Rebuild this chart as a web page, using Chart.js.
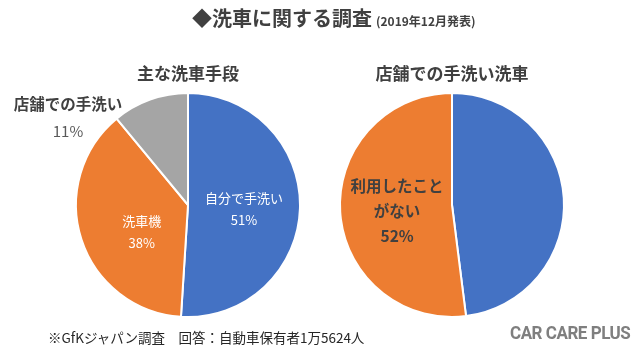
<!DOCTYPE html>
<html><head><meta charset="utf-8">
<script src="https://cdn.jsdelivr.net/npm/chart.js@4.4.0/dist/chart.umd.min.js"></script>
<style>
html,body{margin:0;padding:0;background:#fff;}
#wrap{position:relative;width:640px;height:352px;overflow:hidden;font-family:"Noto Sans CJK JP","Noto Sans",sans-serif;}
.box{position:absolute;top:0;width:320px;height:352px;}
.t{position:absolute;white-space:nowrap;color:#404040;}
</style></head>
<body><div id="wrap">
<div class="box" style="left:0"><canvas id="c1"></canvas></div>
<div class="box" style="left:320px"><canvas id="c2"></canvas></div>
<div class="t" id="mainTitle" style="left:192px;top:4px;font-weight:bold;font-size:20px;line-height:28px;"></div>
<div class="t" id="sub1" style="left:88px;width:200px;top:59px;text-align:center;font-weight:bold;font-size:17px;line-height:28px;"></div>
<div class="t" id="sub2" style="left:352px;width:200px;top:59px;text-align:center;font-weight:bold;font-size:17px;line-height:28px;"></div>
<div class="t" id="note" style="left:48px;top:327px;font-size:13.5px;line-height:20px;color:#262626;"></div>
<div class="t" id="logo" style="left:510px;top:321px;font-family:'Roboto','Liberation Sans',sans-serif;font-weight:bold;font-size:18px;line-height:24px;color:#7f7f7f;letter-spacing:-0.5px;transform-origin:0 50%;"></div>
</div>
<script>
const titleMain = "◆洗車に関する調査";
const titleDate = "(2019年12月発表)";
const note = "※GfKジャパン調査　回答：自動車保有者1万5624人";
const logoText = "CAR CARE PLUS";

const leftTitle = "主な洗車手段";
const leftCategories = ["自分で手洗い", "洗車機", "店舗での手洗い"];
const leftValues = [51, 38, 11];

const rightTitle = "店舗での手洗い洗車";
const rightCategories = ["利用したことがある", "利用したことがない"];
const rightValues = [48, 52];

const blue = "#4472C4", orange = "#ED7D31", gray = "#A5A5A5";

document.getElementById('mainTitle').innerHTML = titleMain + '<span style="font-size:12px;margin-left:4px;">' + titleDate + '</span>';
document.getElementById('sub1').textContent = leftTitle;
document.getElementById('sub2').textContent = rightTitle;
document.getElementById('note').textContent = note;
const logoEl = document.getElementById('logo');
logoEl.textContent = logoText;
logoEl.style.transform = 'scaleX(' + (120 / logoEl.offsetWidth) + ')';

// label plugin: anchors labels on each arc's mid-angle
const sliceLabels = {
  id: 'sliceLabels',
  afterDatasetsDraw(chart, args, opts) {
    const ctx = chart.ctx;
    const meta = chart.getDatasetMeta(0);
    const data = chart.data.datasets[0].data;
    (opts.items || []).forEach((it, i) => {
      if (!it) return;
      const arc = meta.data[i];
      const p = arc.getProps(['x','y','startAngle','endAngle','outerRadius'], true);
      const mid = (p.startAngle + p.endAngle) / 2;
      const r = p.outerRadius * (it.f || 0.5);
      const cx = p.x + Math.cos(mid) * r + (it.dx || 0);
      const cy = p.y + Math.sin(mid) * r + (it.dy || 0);
      const lines = it.lines.concat([data[i] + '%']);
      const n = lines.length;
      ctx.save();
      ctx.textAlign = 'center';
      ctx.textBaseline = 'middle';
      lines.forEach((ln, k) => {
        const isPct = k === n - 1;
        ctx.font = (isPct ? it.pctWeight : it.weight) + ' ' + (isPct ? it.pctSize : it.size) + 'px "Noto Sans CJK JP", sans-serif';
        ctx.fillStyle = isPct ? it.pctColor : it.color;
        ctx.fillText(ln, cx, cy + (k - (n - 1) / 2) * it.lh);
      });
      ctx.restore();
    });
  }
};

function makePie(id, labels, values, colors, pad, items) {
  new Chart(document.getElementById(id), {
    type: 'pie',
    data: { labels: labels, datasets: [{ data: values, backgroundColor: colors, borderColor: '#ffffff', borderWidth: 2 }] },
    options: {
      responsive: false, animation: false,
      layout: { padding: pad },
      plugins: { legend: { display: false }, tooltip: { enabled: false }, sliceLabels: { items: items } }
    },
    plugins: [sliceLabels]
  });
}
document.getElementById('c1').width = 320; document.getElementById('c1').height = 352;
document.getElementById('c2').width = 320; document.getElementById('c2').height = 352;

makePie('c1', leftCategories, leftValues, [blue, orange, gray],
  { left: 75, right: 19, top: 92, bottom: 34 },
  [
    { lines: ["自分で手洗い"], f: 0.5, dx: 0, dy: 2, size: 13, weight: 'normal', color: '#fff', pctSize: 13, pctWeight: 'normal', pctColor: '#fff', lh: 22 },
    { lines: ["洗車機"], f: 0.5, dx: 7, dy: 10, size: 13, weight: 'normal', color: '#fff', pctSize: 13, pctWeight: 'normal', pctColor: '#fff', lh: 22 },
    { lines: ["店舗での手洗い"], f: 0.5, dx: -101, dy: -35, size: 15.5, weight: 'bold', color: '#404040', pctSize: 15, pctWeight: 'normal', pctColor: '#595959', lh: 27 }
  ]);
makePie('c2', rightCategories, rightValues, [blue, orange],
  { left: 19, right: 75, top: 92, bottom: 34 },
  [
    null,
    { lines: ["利用したこと", "がない"], f: 0.5, dx: 1, dy: 3, size: 15.5, weight: 'bold', color: '#404040', pctSize: 15.5, pctWeight: 'bold', pctColor: '#404040', lh: 25 }
  ]);
</script>
</body></html>
